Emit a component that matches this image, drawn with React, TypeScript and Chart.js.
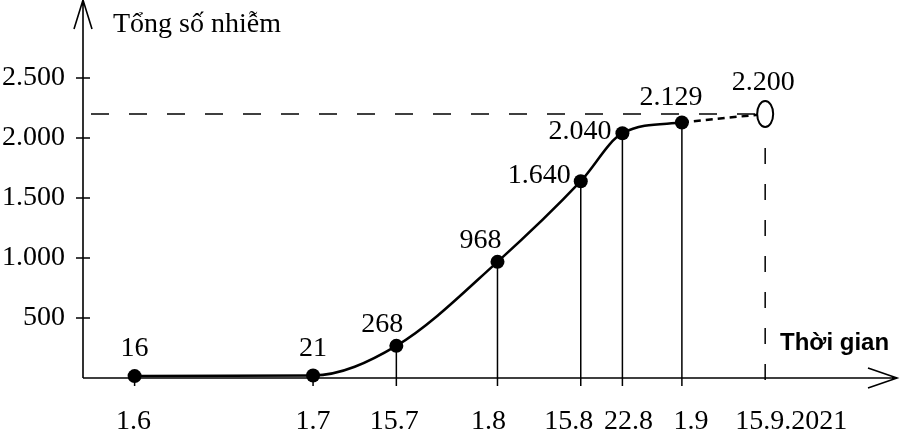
import React, { useEffect, useRef } from "react";
import { Chart, registerables } from "chart.js";

Chart.register(...registerables);

// days counted from 1 June 2021
const days = [0, 30, 44, 61, 75, 82, 92, 106];
const dateLabels = ["1.6", "1.7", "15.7", "1.8", "15.8", "22.8", "1.9", "15.9.2021"];
const totals = [16, 21, 268, 968, 1640, 2040, 2129, 2200];
const valueLabels = ["16", "21", "268", "968", "1.640", "2.040", "2.129", "2.200"];
const yTickValues = [500, 1000, 1500, 2000, 2500];

const SERIF = "'Liberation Serif', 'Times New Roman', serif";
const SANS = "'Liberation Sans', Arial, sans-serif";

const fmt = (v: number) => {
  const s = String(Math.round(v));
  return s.replace(/\B(?=(\d{3})+(?!\d))/g, ".");
};

const decorPlugin = {
  id: "decor",
  beforeDatasetsDraw(chart: any) {
    const { ctx, chartArea, scales } = chart;
    const xs = scales.x;
    const ys = scales.y;
    const left = chartArea.left;
    const bottom = chartArea.bottom;
    const right = chartArea.right;
    const top = chartArea.top;
    ctx.save();
    ctx.strokeStyle = "#000";
    ctx.lineWidth = 1.6;
    ctx.setLineDash([]);
    // y axis
    ctx.beginPath();
    ctx.moveTo(left, bottom);
    ctx.lineTo(left, top);
    ctx.moveTo(left - 9, top + 29);
    ctx.lineTo(left, top);
    ctx.lineTo(left + 9, top + 29);
    // x axis
    ctx.moveTo(left, bottom);
    ctx.lineTo(right, bottom);
    ctx.moveTo(right - 29, bottom - 10);
    ctx.lineTo(right, bottom);
    ctx.lineTo(right - 29, bottom + 10);
    ctx.stroke();
    // y ticks crossing the axis
    ctx.beginPath();
    yTickValues.forEach((v) => {
      const y = ys.getPixelForValue(v);
      ctx.moveTo(left - 7, y);
      ctx.lineTo(left + 7, y);
    });
    ctx.stroke();
    // vertical drop lines
    const last = days.length - 1;
    ctx.lineWidth = 1.5;
    ctx.beginPath();
    for (let i = 0; i < last; i++) {
      const x = xs.getPixelForValue(days[i]);
      const y = ys.getPixelForValue(totals[i]);
      ctx.moveTo(x, y);
      ctx.lineTo(x, bottom + 8);
    }
    ctx.stroke();
    // dashed guides for the forecast point
    const ex = xs.getPixelForValue(days[last]);
    const ey = ys.getPixelForValue(totals[last]);
    ctx.setLineDash([18, 20]);
    ctx.beginPath();
    ctx.moveTo(left + 8, ey);
    ctx.lineTo(ex - 9, ey);
    ctx.stroke();
    ctx.setLineDash([16, 20]);
    ctx.beginPath();
    ctx.moveTo(ex, ey + 34);
    ctx.lineTo(ex, bottom + 8);
    ctx.stroke();
    ctx.restore();
  },
  afterDatasetsDraw(chart: any) {
    const { ctx, scales, chartArea } = chart;
    const xs = scales.x;
    const ys = scales.y;
    const last = days.length - 1;
    const ex = xs.getPixelForValue(days[last]);
    const ey = ys.getPixelForValue(totals[last]);
    ctx.save();
    ctx.strokeStyle = "#000";
    ctx.lineWidth = 2;
    ctx.setLineDash([]);
    ctx.fillStyle = "#fff";
    ctx.beginPath();
    ctx.ellipse(ex, ey, 8, 13, 0, 0, Math.PI * 2);
    ctx.fill();
    ctx.stroke();

    // value labels
    ctx.fillStyle = "#000";
    ctx.font = `28px ${SERIF}`;
    ctx.textBaseline = "middle";
    const place = [
      ["center", 0, -27],
      ["center", 0, -27],
      ["center", -14, -21],
      ["center", -17, -21],
      ["right", -10, -6],
      ["right", -11, -2],
      ["center", -11, -25],
      ["center", -2, -31],
    ];
    valueLabels.forEach((t, i) => {
      const x = xs.getPixelForValue(days[i]);
      const y = ys.getPixelForValue(totals[i]);
      const [align, dx, dy] = place[i] as [CanvasTextAlign, number, number];
      ctx.textAlign = align;
      ctx.fillText(t, x + dx, y + dy);
    });

    // date labels under the axis (hand-placed as in the original figure)
    const shift = [-1, 0, -2, -9, -12, 6, 9, 26];
    ctx.textAlign = "center";
    ctx.textBaseline = "alphabetic";
    dateLabels.forEach((t, i) => {
      const x = xs.getPixelForValue(days[i]);
      ctx.fillText(t, x + shift[i], chartArea.bottom + 51);
    });

    // axis titles
    ctx.textAlign = "left";
    ctx.font = `28px ${SERIF}`;
    ctx.fillText("Tổng số nhiễm", 113, 32);
    ctx.font = `bold 24px ${SANS}`;
    ctx.fillText("Thời gian", 780, 350);
    ctx.restore();
  },
};

export default function App() {
  const ref = useRef<HTMLCanvasElement | null>(null);
  useEffect(() => {
    document.body.style.margin = "0";
    const last = days.length - 1;
    const chart = new Chart(ref.current as HTMLCanvasElement, {
      type: "line",
      data: {
        datasets: [
          {
            data: days.map((d, i) => ({ x: d, y: totals[i] })),
            borderColor: "#000",
            borderWidth: 2.5,
            cubicInterpolationMode: "monotone",
            pointRadius: (c: any) => (c.dataIndex === last ? 0 : 7),
            pointHoverRadius: 0,
            pointBackgroundColor: "#000",
            pointBorderWidth: 0,
            fill: false,
            clip: false as any,
            segment: {
              borderDash: (c: any) => (c.p1DataIndex === last ? [7, 5] : undefined),
            },
          } as any,
        ],
      },
      options: {
        animation: false,
        responsive: true,
        maintainAspectRatio: false,
        layout: { padding: { top: 0, right: 3, left: 0, bottom: 0 } },
        plugins: { legend: { display: false }, tooltip: { enabled: false } },
        events: [],
        scales: {
          x: {
            type: "linear",
            min: -8.674,
            max: 128.16,
            grid: { display: false, drawTicks: false },
            border: { display: false },
            afterBuildTicks: (scale: any) => {
              scale.ticks = days.map((v) => ({ value: v }));
            },
            afterFit: (scale: any) => {
              scale.height = 54;
              scale.paddingLeft = 0;
              scale.paddingRight = 0;
              scale.paddingTop = 0;
              scale.paddingBottom = 0;
            },
            ticks: { display: false },
          },
          y: {
            min: 0,
            max: 3150,
            grid: { display: false, drawTicks: false },
            border: { display: false },
            afterBuildTicks: (scale: any) => {
              scale.ticks = yTickValues.map((v) => ({ value: v }));
            },
            afterFit: (scale: any) => {
              scale.width = 83;
              scale.paddingLeft = 0;
              scale.paddingRight = 0;
              scale.paddingTop = 0;
              scale.paddingBottom = 0;
            },
            ticks: {
              padding: 18,
              color: "#000",
              font: { family: SERIF, size: 28 },
              callback: (v: any) => fmt(Number(v)),
            },
          },
        },
      },
      plugins: [decorPlugin],
    } as any);
    // the markers may overhang the plot edges; do not shrink the plot for them
    const meta: any = chart.getDatasetMeta(0);
    if (meta && meta.controller) {
      meta.controller.getMaxOverflow = () => 0;
      chart.update();
    }
    return () => chart.destroy();
  }, []);
  return (
    <div style={{ width: 900, height: 432, position: "relative", background: "#fff" }}>
      <canvas ref={ref} />
    </div>
  );
}
